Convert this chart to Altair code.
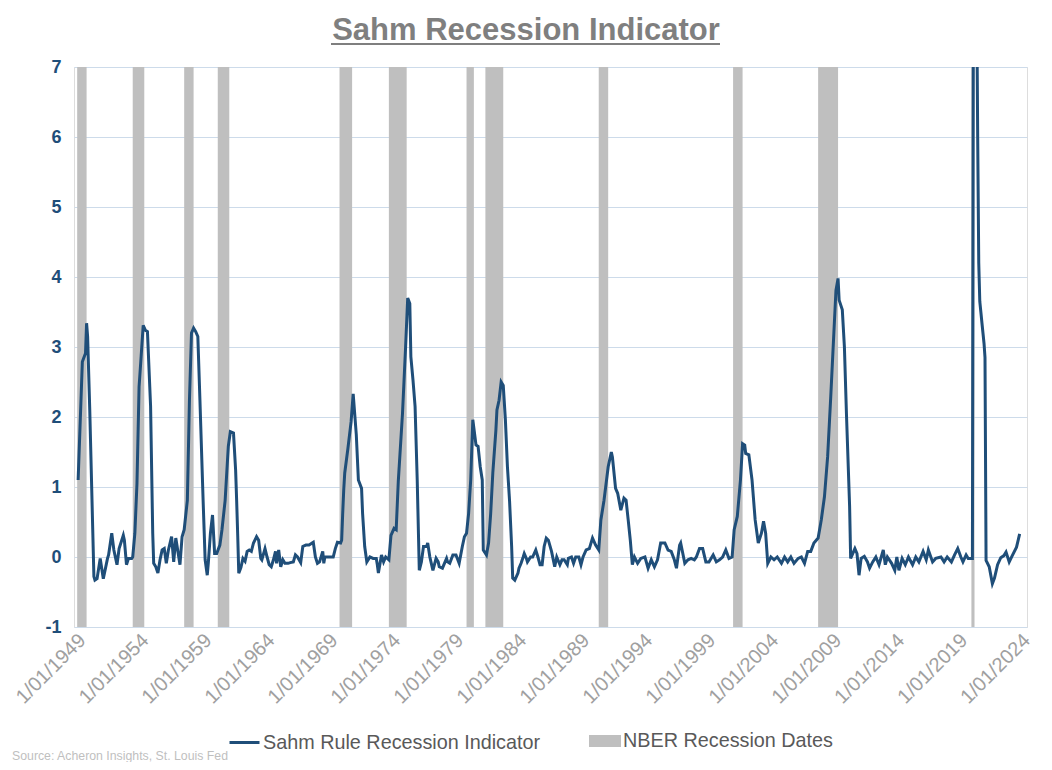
import altair as alt
import pandas as pd

TITLE = "Sahm Recession Indicator"
SOURCE = "Source: Acheron Insights, St. Louis Fed"
LINE_NAME = "Sahm Rule Recession Indicator"
BAND_NAME = "NBER Recession Dates"

dates = [
    "1949-03", "1949-07", "1949-10", "1949-11", "1949-12", "1950-02", "1950-06", "1950-07", "1950-09", "1950-12",
    "1951-03", "1951-07", "1951-08", "1951-11", "1952-01", "1952-04", "1952-06", "1952-10", "1952-11", "1953-01",
    "1953-03", "1953-06", "1953-07", "1953-09", "1953-11", "1954-01", "1954-03", "1954-05", "1954-07", "1954-09",
    "1954-12", "1955-02", "1955-03", "1955-05", "1955-07", "1955-09", "1955-11", "1956-01", "1956-03", "1956-05",
    "1956-08", "1956-10", "1956-12", "1957-04", "1957-06", "1957-08", "1957-11", "1958-01", "1958-03", "1958-05",
    "1958-07", "1958-09", "1958-11", "1959-02", "1959-04", "1959-06", "1959-07", "1959-09", "1959-11", "1960-01",
    "1960-03", "1960-06", "1960-08", "1960-11", "1961-02", "1961-04", "1961-07", "1961-09", "1961-10", "1961-11",
    "1961-12", "1962-02", "1962-04", "1962-06", "1962-08", "1962-10", "1962-12", "1963-02", "1963-05", "1963-07",
    "1963-09", "1963-10", "1964-01", "1964-03", "1964-05", "1964-07", "1964-09", "1964-11", "1964-12", "1965-02",
    "1965-04", "1965-06", "1965-08", "1965-11", "1966-01", "1966-04", "1966-06", "1966-08", "1966-11", "1967-01",
    "1967-04", "1967-07", "1967-11", "1968-01", "1968-03", "1968-05", "1968-08", "1968-09", "1968-10", "1969-02",
    "1969-06", "1969-08", "1969-10", "1970-01", "1970-02", "1970-03", "1970-04", "1970-05", "1970-08", "1970-11",
    "1971-01", "1971-04", "1971-06", "1971-09", "1971-10", "1971-12", "1972-02", "1972-05", "1972-08", "1972-11",
    "1972-12", "1973-01", "1973-04", "1973-06", "1973-08", "1973-11", "1974-01", "1974-04", "1974-06", "1974-08",
    "1974-12", "1975-03", "1975-05", "1975-07", "1975-08", "1975-10", "1975-12", "1976-02", "1976-04", "1976-06",
    "1976-08", "1976-11", "1976-12", "1977-02", "1977-05", "1977-08", "1977-10", "1977-11", "1978-02", "1978-06",
    "1978-07", "1978-09", "1978-12", "1979-03", "1979-06", "1979-09", "1979-11", "1980-01", "1980-03", "1980-05",
    "1980-07", "1980-09", "1980-10", "1980-12", "1981-02", "1981-04", "1981-05", "1981-08", "1981-10", "1981-12",
    "1982-02", "1982-05", "1982-06", "1982-08", "1982-10", "1982-12", "1983-02", "1983-04", "1983-06", "1983-08",
    "1983-09", "1983-11", "1984-02", "1984-03", "1984-05", "1984-07", "1984-08", "1984-10", "1984-11", "1985-02",
    "1985-04", "1985-07", "1985-09", "1985-11", "1986-01", "1986-03", "1986-05", "1986-07", "1986-10", "1987-01",
    "1987-03", "1987-06", "1987-08", "1987-10", "1988-01", "1988-02", "1988-05", "1988-07", "1988-09", "1988-12",
    "1989-02", "1989-04", "1989-07", "1989-10", "1990-01", "1990-04", "1990-07", "1990-09", "1990-12", "1991-04",
    "1991-07", "1991-08", "1991-11", "1992-01", "1992-04", "1992-07", "1992-09", "1992-11", "1993-01", "1993-03",
    "1993-05", "1993-08", "1993-11", "1994-03", "1994-06", "1994-09", "1994-12", "1995-03", "1995-06", "1995-10",
    "1996-01", "1996-04", "1996-07", "1996-09", "1996-12", "1997-01", "1997-05", "1997-08", "1997-11", "1998-02",
    "1998-04", "1998-07", "1998-10", "1999-01", "1999-04", "1999-08", "1999-11", "2000-02", "2000-05", "2000-08",
    "2000-11", "2001-02", "2001-04", "2001-07", "2001-10", "2001-12", "2002-02", "2002-03", "2002-06", "2002-09",
    "2002-12", "2003-03", "2003-06", "2003-08", "2003-10", "2003-12", "2004-03", "2004-06", "2004-09", "2005-01",
    "2005-04", "2005-07", "2005-10", "2006-01", "2006-05", "2006-08", "2006-11", "2007-02", "2007-05", "2007-08",
    "2007-12", "2008-03", "2008-06", "2008-09", "2008-12", "2009-03", "2009-05", "2009-07", "2009-08", "2009-11",
    "2010-01", "2010-03", "2010-06", "2010-07", "2010-11", "2011-01", "2011-03", "2011-05", "2011-08", "2011-11",
    "2012-01", "2012-04", "2012-07", "2012-10", "2013-02", "2013-04", "2013-06", "2013-10", "2014-01", "2014-03",
    "2014-05", "2014-08", "2014-11", "2015-02", "2015-06", "2015-09", "2015-12", "2016-04", "2016-07", "2016-09",
    "2017-01", "2017-04", "2017-09", "2017-12", "2018-03", "2018-07", "2018-10", "2019-01", "2019-04", "2019-06",
    "2019-09", "2019-11", "2020-03", "2020-04", "2020-05", "2020-06", "2020-07", "2020-08", "2020-09", "2020-10",
    "2020-11", "2020-12", "2021-01", "2021-02", "2021-03", "2021-04", "2021-07", "2021-10", "2021-12", "2022-03",
    "2022-06", "2022-09", "2022-11", "2023-02", "2023-05", "2023-09", "2023-12",
]

values = [
    1.10, 2.79, 2.91, 3.34, 3.15, 2.10, -0.28, -0.33, -0.31, -0.02,
    -0.31, -0.02, 0.03, 0.34, 0.10, -0.11, 0.12, 0.31, 0.24, -0.11,
    -0.02, -0.02, 0.00, 0.34, 1.05, 2.43, 2.86, 3.31, 3.24, 3.22,
    2.15, 0.34, -0.09, -0.14, -0.23, -0.04, 0.10, 0.12, -0.09, 0.10,
    0.29, -0.07, 0.27, -0.11, 0.29, 0.39, 0.81, 2.24, 3.20, 3.27,
    3.22, 3.15, 2.24, 0.81, -0.04, -0.26, -0.09, 0.34, 0.60, 0.05,
    0.05, 0.17, 0.39, 0.81, 1.58, 1.79, 1.77, 1.24, 0.80, 0.30,
    -0.23, -0.15, -0.02, -0.06, 0.08, 0.10, 0.08, 0.20, 0.29, 0.24,
    -0.02, -0.04, 0.12, 0.00, -0.11, -0.14, -0.04, 0.08, -0.09, 0.10,
    -0.14, -0.04, -0.09, -0.09, -0.08, -0.07, 0.03, 0.00, -0.08, 0.15,
    0.17, 0.17, 0.21, 0.00, -0.09, -0.07, 0.08, -0.09, 0.00, 0.00,
    0.00, 0.12, 0.21, 0.20, 0.24, 0.60, 0.95, 1.20, 1.55, 1.93,
    2.33, 1.75, 1.10, 0.98, 0.62, 0.15, -0.07, 0.00, -0.02, -0.02,
    -0.11, -0.23, 0.03, -0.07, 0.00, -0.04, 0.31, 0.41, 0.39, 1.08,
    2.05, 3.00, 3.70, 3.62, 2.86, 2.53, 2.15, 1.10, -0.19, -0.07,
    0.15, 0.15, 0.20, 0.00, -0.19, -0.02, -0.07, -0.14, -0.16, -0.02,
    -0.07, -0.09, 0.03, 0.03, -0.09, 0.15, 0.29, 0.34, 0.62, 1.10,
    1.96, 1.72, 1.60, 1.58, 1.29, 1.10, 0.10, 0.03, 0.20, 0.62,
    1.20, 1.81, 2.10, 2.24, 2.50, 2.45, 1.96, 1.29, 0.81, 0.15,
    -0.30, -0.33, -0.23, -0.16, -0.09, 0.00, 0.05, -0.02, -0.07, 0.00,
    0.00, 0.10, 0.00, -0.11, -0.11, 0.15, 0.27, 0.24, 0.08, -0.14,
    0.00, -0.11, -0.04, -0.04, -0.11, -0.02, 0.00, -0.09, 0.00, 0.00,
    -0.11, 0.00, 0.10, 0.12, 0.27, 0.17, 0.10, 0.53, 0.81, 1.29,
    1.50, 1.43, 0.98, 0.91, 0.67, 0.84, 0.81, 0.53, 0.24, -0.11,
    0.00, -0.09, -0.02, 0.00, -0.16, -0.04, -0.14, -0.04, 0.20, 0.20,
    0.10, 0.08, -0.04, -0.16, 0.17, 0.20, -0.09, -0.04, -0.02, -0.04,
    0.00, 0.12, 0.12, -0.07, -0.07, 0.03, -0.07, -0.04, 0.00, 0.10,
    -0.02, 0.00, 0.39, 0.58, 1.10, 1.62, 1.60, 1.48, 1.46, 1.10,
    0.53, 0.20, 0.34, 0.51, 0.34, -0.09, 0.00, -0.04, 0.00, -0.09,
    0.00, -0.07, 0.00, -0.09, -0.02, 0.00, -0.09, 0.08, 0.08, 0.20,
    0.27, 0.53, 0.86, 1.43, 2.29, 3.20, 3.81, 3.98, 3.67, 3.53,
    3.00, 2.05, 0.72, -0.02, 0.12, 0.05, -0.26, -0.02, 0.01, -0.07,
    -0.16, -0.07, 0.00, -0.11, 0.10, -0.11, 0.00, -0.09, -0.19, 0.00,
    -0.19, -0.02, -0.11, 0.00, -0.11, 0.00, -0.07, 0.08, -0.04, 0.10,
    -0.07, -0.02, 0.00, -0.07, 0.00, -0.07, 0.03, 0.12, 0.00, -0.07,
    0.03, -0.02, -0.02, 9.00, 9.60, 9.50, 8.20, 6.00, 4.20, 3.65,
    3.50, 3.35, 3.20, 3.05, 2.85, -0.05, -0.14, -0.38, -0.30, -0.11,
    -0.01, 0.02, 0.07, -0.07, 0.02, 0.14, 0.33,
]

# NBER business-cycle peaks and troughs (first one starts where the data starts)
rec_peaks = ["1949-02", "1953-07", "1957-08", "1960-04", "1969-12", "1973-11",
             "1980-01", "1981-07", "1990-07", "2001-03", "2007-12", "2020-02"]
rec_troughs = ["1949-10", "1954-05", "1958-04", "1961-02", "1970-11", "1975-03",
               "1980-07", "1982-11", "1991-03", "2001-11", "2009-06", "2020-04"]

tick_years = list(range(1949, 2025, 5))
y_ticks = [-1, 0, 1, 2, 3, 4, 5, 6, 7]

line_df = pd.DataFrame({
    "date": pd.to_datetime(dates),
    "value": values,
    "series": LINE_NAME,
})
rec_df = pd.DataFrame({
    "start": pd.to_datetime(rec_peaks),
    "end": pd.to_datetime(rec_troughs) + pd.offsets.MonthBegin(1),
    "label": BAND_NAME,
})

FONT = "Liberation Sans"
NAVY = "#1f4e79"
BAND = "#bfbfbf"
W, H = 953, 560

x_scale = alt.Scale(domain=[alt.DateTime(year=1948, month=11, date=1),
                            alt.DateTime(year=2024, month=7, date=1)])
x_axis = alt.Axis(
    values=[alt.DateTime(year=y, month=1, date=1) for y in tick_years],
    format="%-m/%d/%Y", labelAngle=-45, labelAlign="right", labelBaseline="middle",
    labelFontSize=20, labelColor="#a0a0a0", labelFont=FONT, labelPadding=10,
    labelOffset=6, labelFlush=False, labelOverlap=False, labelBound=False,
    ticks=False, domain=False, grid=False, title=None,
)
y_axis = alt.Axis(
    values=y_ticks, grid=True, gridColor="#cddbea", gridWidth=1,
    ticks=False, domain=False, labelFontSize=18, labelFontWeight="bold",
    labelColor=NAVY, labelFont=FONT, labelPadding=13, title=None,
    labelExpr="'' + datum.value",
)

bands = alt.Chart(rec_df).mark_rect(clip=True).encode(
    x=alt.X("start:T", scale=x_scale, axis=x_axis),
    x2="end:T",
    fill=alt.Fill("label:N", scale=alt.Scale(domain=[BAND_NAME], range=[BAND]),
                  legend=alt.Legend(orient="none", legendX=515, legendY=658, title=None,
                                    padding=0, symbolType="M-1,-0.375H1V0.375H-1Z",
                                    symbolSize=1024, symbolStrokeWidth=0, symbolOpacity=1,
                                    labelFontSize=19.8, labelColor="#595959", labelFont=FONT,
                                    labelOffset=2, labelLimit=0)),
)

line = alt.Chart(line_df).mark_line(strokeWidth=3, clip=True).encode(
    x=alt.X("date:T", scale=x_scale, axis=x_axis),
    y=alt.Y("value:Q", scale=alt.Scale(domain=[-1, 7], nice=False, zero=False), axis=y_axis),
    stroke=alt.Stroke("series:N", scale=alt.Scale(domain=[LINE_NAME], range=[NAVY]),
                      legend=alt.Legend(orient="none", legendX=154, legendY=659, title=None,
                                        padding=0, symbolType="stroke", symbolSize=900,
                                        symbolStrokeWidth=3, labelFontSize=19.8,
                                        labelColor="#595959", labelFont=FONT, labelOffset=2,
                                        labelLimit=0)),
)

title = alt.Chart(pd.DataFrame({"t": [TITLE]})).mark_text(
    font=FONT, fontSize=31, fontWeight="bold", color="#7f7f7f",
    align="center", baseline="alphabetic",
).encode(text="t:N", x=alt.value(452), y=alt.value(-27))

underline = alt.Chart(pd.DataFrame({"t": [TITLE]})).mark_rule(
    color="#7f7f7f", strokeWidth=2,
).encode(x=alt.value(257), x2=alt.value(646), y=alt.value(-23))

source = alt.Chart(pd.DataFrame({"t": [SOURCE]})).mark_text(
    font=FONT, fontSize=12.3, color="#bfbfbf", align="left", baseline="alphabetic",
).encode(text="t:N", x=alt.value(-62), y=alt.value(693))

chart = alt.layer(bands, line, title, underline, source).resolve_scale(
    fill="independent", stroke="independent"
).properties(
    width=W, height=H,
    autosize=alt.AutoSizeParams(type="none"),
    padding={"left": 66, "top": 59, "right": 17, "bottom": 135},
).configure_view(stroke=None).configure(background="white")

chart.save("out.html", embed_options={"renderer": "svg", "actions": False})
